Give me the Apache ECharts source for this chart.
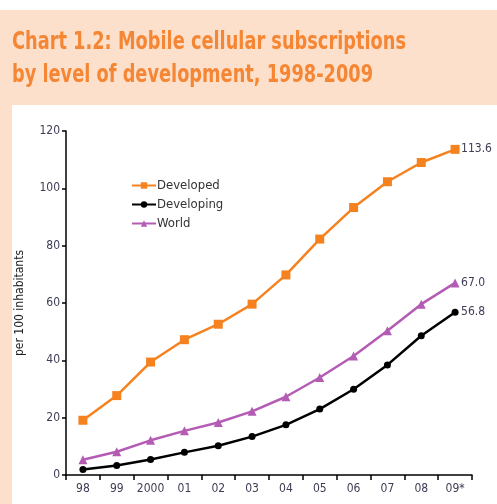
<!DOCTYPE html>
<html>
<head>
<meta charset="utf-8">
<style>
html, body { margin: 0; padding: 0; background: #fff; }
#chart { width: 497px; height: 504px; }
</style>
<script src="https://cdn.jsdelivr.net/npm/echarts@6/dist/echarts.min.js"></script>
</head>
<body>
<div id="chart"></div>
<script>
var years = ['98', '99', '2000', '01', '02', '03', '04', '05', '06', '07', '08', '09*'];
var developed = [19.1, 27.7, 39.4, 47.2, 52.6, 59.6, 69.8, 82.3, 93.3, 102.3, 109.0, 113.6];
var developing = [1.9, 3.3, 5.4, 7.9, 10.2, 13.4, 17.5, 23.0, 29.9, 38.4, 48.6, 56.8];
var world = [5.3, 8.1, 12.1, 15.4, 18.3, 22.2, 27.3, 34.0, 41.5, 50.3, 59.6, 67.0];
var yTicks = [0, 20, 40, 60, 80, 100, 120];

var narrow = '"Liberation Sans Narrow", "DejaVu Sans Condensed", "Liberation Sans", sans-serif';
var labelColor = '#3d3d55';

var mychart = echarts.init(document.getElementById('chart'));

function makeSeries(name, data, color, symbol, size) {
    return {
        name: name,
        type: 'line',
        data: data,
        symbol: symbol,
        symbolSize: size,
        showAllSymbol: true,
        lineStyle: {color: color, width: 2.5},
        itemStyle: {color: color},
        emphasis: {disabled: true},
        endLabel: {
            show: true,
            distance: 6,
            color: labelColor,
            fontFamily: narrow,
            fontSize: 12,
            formatter: function (p) {
                return p.value.toFixed(1);
            }
        },
        animation: false
    };
}

var option = {
    backgroundColor: '#ffffff',
    textStyle: {fontFamily: narrow},
    graphic: [
        {type: 'rect', z: -10, shape: {x: 0, y: 10, width: 497, height: 494}, style: {fill: '#fde0cc'}, silent: true},
        {type: 'rect', z: -9, shape: {x: 12, y: 105, width: 485, height: 399}, style: {fill: '#ffffff'}, silent: true},
        {
            type: 'text', x: 12, y: 26, scaleX: 0.79, silent: true,
            style: {
                text: 'Chart 1.2: Mobile cellular subscriptions\nby level of development, 1998-2009',
                fill: '#f58634',
                font: 'bold 25px ' + narrow,
                lineHeight: 33
            }
        }
    ],
    legend: {
        orient: 'vertical',
        left: 126,
        top: 174,
        itemGap: 6,
        itemWidth: 24,
        itemHeight: 8,
        textStyle: {fontSize: 13, color: '#333', fontFamily: narrow, padding: [0, 0, 0, -4]},
        data: ['Developed', 'Developing', 'World']
    },
    grid: {left: 66, right: 25, top: 131, bottom: 29, containLabel: false},
    xAxis: {
        type: 'category',
        data: years,
        boundaryGap: true,
        axisLine: {lineStyle: {color: '#000', width: 1.5}},
        axisTick: {show: true, length: 5, interval: 0, lineStyle: {color: '#000', width: 1.5}},
        axisLabel: {color: labelColor, fontSize: 12, fontFamily: narrow, margin: 8, interval: 0}
    },
    yAxis: {
        type: 'value',
        min: 0,
        max: 120,
        interval: 20,
        name: 'per 100 inhabitants',
        nameLocation: 'middle',
        nameGap: 40,
        nameTextStyle: {color: '#222', fontSize: 12, fontFamily: narrow},
        axisLine: {show: true, lineStyle: {color: '#000', width: 1.5}},
        axisTick: {show: true, length: 4, lineStyle: {color: '#000', width: 1.5}},
        axisLabel: {
            color: labelColor, fontSize: 12, fontFamily: narrow, margin: 6,
            formatter: function (v) { return yTicks.indexOf(v) >= 0 ? String(v) : ''; }
        },
        splitLine: {show: false}
    },
    series: [
        makeSeries('Developed', developed, '#f5821f', 'rect', 9),
        makeSeries('Developing', developing, '#000000', 'circle', 7),
        makeSeries('World', world, '#b45cb4', 'triangle', 9)
    ]
};
mychart.setOption(option);
</script>
</body>
</html>
